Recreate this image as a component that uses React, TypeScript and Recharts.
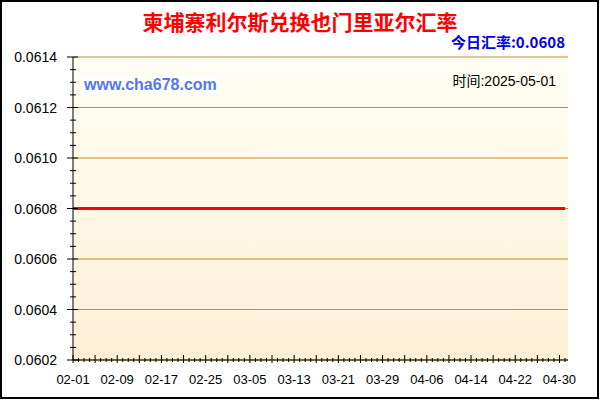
import React from 'react';
import { LineChart, Line, XAxis, YAxis, CartesianGrid, ReferenceLine } from 'recharts';

const dates = [
  '02-01','02-02','02-03','02-04','02-05','02-06','02-07','02-08','02-09','02-10',
  '02-11','02-12','02-13','02-14','02-15','02-16','02-17','02-18','02-19','02-20',
  '02-21','02-22','02-23','02-24','02-25','02-26','02-27','02-28',
  '03-01','03-02','03-03','03-04','03-05','03-06','03-07','03-08','03-09','03-10',
  '03-11','03-12','03-13','03-14','03-15','03-16','03-17','03-18','03-19','03-20',
  '03-21','03-22','03-23','03-24','03-25','03-26','03-27','03-28','03-29','03-30','03-31',
  '04-01','04-02','04-03','04-04','04-05','04-06','04-07','04-08','04-09','04-10',
  '04-11','04-12','04-13','04-14','04-15','04-16','04-17','04-18','04-19','04-20',
  '04-21','04-22','04-23','04-24','04-25','04-26','04-27','04-28','04-29','04-30',
  '05-01',
];

const rates = [
  0.0608,0.0608,0.0608,0.0608,0.0608,0.0608,0.0608,0.0608,0.0608,0.0608,
  0.0608,0.0608,0.0608,0.0608,0.0608,0.0608,0.0608,0.0608,0.0608,0.0608,
  0.0608,0.0608,0.0608,0.0608,0.0608,0.0608,0.0608,0.0608,
  0.0608,0.0608,0.0608,0.0608,0.0608,0.0608,0.0608,0.0608,0.0608,0.0608,
  0.0608,0.0608,0.0608,0.0608,0.0608,0.0608,0.0608,0.0608,0.0608,0.0608,
  0.0608,0.0608,0.0608,0.0608,0.0608,0.0608,0.0608,0.0608,0.0608,0.0608,0.0608,
  0.0608,0.0608,0.0608,0.0608,0.0608,0.0608,0.0608,0.0608,0.0608,0.0608,
  0.0608,0.0608,0.0608,0.0608,0.0608,0.0608,0.0608,0.0608,0.0608,0.0608,
  0.0608,0.0608,0.0608,0.0608,0.0608,0.0608,0.0608,0.0608,0.0608,0.0608,
  0.0608,
];

const xTickLabels = ['02-01','02-09','02-17','02-25','03-05','03-13','03-21','03-29','04-06','04-14','04-22','04-30'];

const yMajorTicks = [0.0602, 0.0604, 0.0606, 0.0608, 0.061, 0.0612, 0.0614];
const yTickLabels = ['0.0602','0.0604','0.0606','0.0608','0.0610','0.0612','0.0614'];

const titleText = '柬埔寨利尔斯兑换也门里亚尔汇率';
const todayLabel = '今日汇率:0.0608';
const timeLabel = '时间:2025-05-01';
const siteLabel = 'www.cha678.com';

const data = dates.map((d, i) => ({ date: d, rate: rates[i] }));

// minor ticks: 4 subdivisions between majors
const yAllTicks: number[] = [];
yMajorTicks.forEach((v, i) => {
  yAllTicks.push(v);
  if (i < yMajorTicks.length - 1) {
    const step = (yMajorTicks[i + 1] - v) / 4;
    for (let k = 1; k < 4; k++) yAllTicks.push(v + step * k);
  }
});

const majorIndexY = (v: number) => yMajorTicks.findIndex((m) => Math.abs(m - v) < 1e-9);

const NUM_FONT = '"Liberation Sans", Arial, "Noto Sans CJK SC", sans-serif';
const CJK_FONT = '"Noto Sans CJK SC", "Liberation Sans", sans-serif';
const GRID = '#C4901E';

function LeftTick(props: any) {
  const { x, y, payload } = props;
  const idx = majorIndexY(payload.value);
  const major = idx >= 0;
  return (
    <g>
      <line x1={x - (major ? 6 : 3)} x2={x + (major ? 5 : 3)} y1={y} y2={y} stroke="#000" strokeWidth={1} />
      {major && (
        <text x={x - 16} y={y + 5} textAnchor="end" fontSize={14} fontFamily={NUM_FONT} fill="#000">
          {yTickLabels[idx]}
        </text>
      )}
    </g>
  );
}

function RightTick(props: any) {
  const { x, y, payload } = props;
  const major = majorIndexY(payload.value) >= 0;
  return <line x1={x - (major ? 4 : 3)} x2={x} y1={y} y2={y} stroke="#000" strokeWidth={1} />;
}

function BottomTick(props: any) {
  const { x, y, payload } = props;
  const idx = dates.indexOf(payload.value);
  const major = idx % 4 === 0;
  const labeled = xTickLabels.includes(payload.value);
  return (
    <g>
      <line x1={x} x2={x} y1={y - (major ? 5 : 2)} y2={y + (major ? 3 : 2)} stroke="#000" strokeWidth={1} />
      {labeled && (
        <text x={x} y={y + 24} textAnchor="middle" fontSize={13} fontFamily={NUM_FONT} fill="#000">
          {payload.value}
        </text>
      )}
    </g>
  );
}

function TopTick(props: any) {
  const { x, y, payload } = props;
  const idx = dates.indexOf(payload.value);
  const major = idx % 4 === 0;
  return <line x1={x} x2={x} y1={y} y2={y + (major ? 5 : 3)} stroke="#000" strokeWidth={1} />;
}

export default function App() {
  return (
    <div style={{ position: 'absolute', left: 0, top: 0, width: 600, height: 400, background: '#fff' }}>
      <svg width={0} height={0} style={{ position: 'absolute' }}>
        <defs>
          <linearGradient id="plotBg" x1="0" y1="0" x2="0" y2="1">
            <stop offset="0%" stopColor="#FFFEF4" />
            <stop offset="100%" stopColor="#FDF0D6" />
          </linearGradient>
        </defs>
      </svg>
      <LineChart width={600} height={400} data={data} margin={{ top: 57, right: 32, bottom: 0, left: 0 }}>
        <CartesianGrid xAxisId="bottom" yAxisId="left" horizontal={false} vertical={false} fill="url(#plotBg)" stroke="none" />
        {yMajorTicks.map((v) => (
          <ReferenceLine key={v} xAxisId="bottom" yAxisId="left" y={v} stroke={GRID} strokeWidth={1} />
        ))}
        <XAxis
          xAxisId="bottom"
          dataKey="date"
          type="category"
          ticks={dates}
          interval={0}
          tick={(p: any) => <BottomTick {...p} />}
          tickLine={false}
          tickSize={0}
          tickMargin={0}
          axisLine={{ stroke: '#000' }}
          height={40}
          padding={{ left: 0, right: 3 }}
        />
        <XAxis
          xAxisId="top"
          orientation="top"
          dataKey="date"
          type="category"
          ticks={dates}
          interval={0}
          tick={(p: any) => <TopTick {...p} />}
          tickLine={false}
          tickSize={0}
          tickMargin={0}
          axisLine={{ stroke: '#000' }}
          height={0}
          padding={{ left: 0, right: 3 }}
        />
        <YAxis
          yAxisId="left"
          type="number"
          domain={[0.0602, 0.0614]}
          allowDataOverflow
          ticks={yAllTicks}
          interval={0}
          tick={(p: any) => <LeftTick {...p} />}
          tickLine={false}
          tickSize={0}
          tickMargin={0}
          axisLine={{ stroke: '#000' }}
          width={73}
        />
        <YAxis
          yAxisId="right"
          orientation="right"
          type="number"
          domain={[0.0602, 0.0614]}
          allowDataOverflow
          ticks={yAllTicks}
          interval={0}
          tick={(p: any) => <RightTick {...p} />}
          tickLine={false}
          tickSize={0}
          tickMargin={0}
          axisLine={{ stroke: '#000' }}
          width={0}
        />
        <Line
          xAxisId="top"
          yAxisId="right"
          dataKey="rate"
          stroke="none"
          dot={false}
          activeDot={false}
          isAnimationActive={false}
        />
        <Line
          xAxisId="bottom"
          yAxisId="left"
          dataKey="rate"
          stroke="#FF0000"
          strokeWidth={3}
          dot={false}
          activeDot={false}
          isAnimationActive={false}
        />
      </LineChart>
      <svg width={600} height={400} style={{ position: 'absolute', left: 0, top: 0, pointerEvents: 'none' }}>
        <text x={300} y={30} textAnchor="middle" fontSize={21} fontWeight="bold" fontFamily={CJK_FONT} fill="#FF0000">
          {titleText}
        </text>
        <text x={565} y={48} textAnchor="end" fontSize={15} fontWeight="bold" fontFamily={CJK_FONT} fill="#0000EE">
          {todayLabel}
        </text>
        <rect x={81} y={76} width={140} height={17} fill="#FFFFFF" />
        <text x={84} y={90} textAnchor="start" fontSize={16} fontWeight="bold" fontFamily={NUM_FONT} fill="#5577EE">
          {siteLabel}
        </text>
        <text x={556} y={86} textAnchor="end" fontSize={14} fontFamily={NUM_FONT} fill="#000">
          {timeLabel}
        </text>
      </svg>
      <div
        style={{
          position: 'absolute',
          left: 0,
          top: 0,
          width: 599,
          height: 399,
          boxSizing: 'border-box',
          border: '2px solid #000',
          pointerEvents: 'none',
        }}
      />
    </div>
  );
}
